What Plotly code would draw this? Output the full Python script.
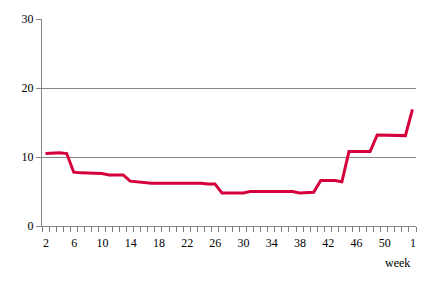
import plotly.graph_objects as go

weeks = [str(w) for w in range(2, 54)] + ["1"]
values = [10.5, 10.6, 10.6, 10.5, 7.8, 7.7, 7.7, 7.7, 7.6, 7.4, 7.4, 7.4,
          6.5, 6.4, 6.2, 6.2, 6.2, 6.2, 6.3, 6.2, 6.2, 6.2, 6.2, 6.1, 6.1,
          4.8, 4.8, 4.7, 4.8, 5.0, 5.0, 5.0, 5.0, 5.0, 5.0, 5.0, 4.8, 4.8,
          4.9, 6.6, 6.6, 6.6, 6.4, 10.8, 10.8, 10.8, 10.8, 13.2, 13.2, 13.1,
          13.1, 13.1, 16.9]
y_ticks = [0, 10, 20, 30]

n = len(weeks)
idx = list(range(n))
boundaries = [i - 0.5 for i in range(n + 1)]
# label every 4th category; labels sit at the left boundary and get shifted to centre
bound_text = [(weeks[i] if (i < n and i % 4 == 0) else "") for i in range(n + 1)]
xr = [-0.5, n - 0.5]

W, H = 436, 281
ML, MR, MT, MB = 42, 20, 19, 55
half_cat_px = int(round((W - ML - MR) / n / 2))

font = dict(family="Liberation Serif", size=12, color="#000000")

fig = go.Figure()
fig.add_trace(go.Scatter(x=idx, y=values, mode="lines",
                         line=dict(color="#d5003b", width=3),
                         hoverinfo="skip"))

fig.update_layout(
    template="none",
    width=W, height=H,
    margin=dict(l=ML, r=MR, t=MT, b=MB),
    paper_bgcolor="white", plot_bgcolor="white",
    showlegend=False,
    font=font,
    xaxis=dict(range=xr, tickmode="array",
               tickvals=boundaries, ticktext=bound_text,
               ticks="outside", ticklen=5, tickcolor="#7a7a7a", tickwidth=1,
               ticklabelshift=half_cat_px, ticklabelstandoff=1,
               showgrid=False, zeroline=False,
               showline=True, linecolor="#868686", linewidth=1,
               tickfont=font),
    yaxis=dict(range=[0, 30], tickvals=y_ticks, ticks="outside", ticklen=5,
               tickcolor="#868686", showgrid=True, gridcolor="#868686", gridwidth=1,
               zeroline=False, showline=True, linecolor="#868686", linewidth=1,
               tickfont=font),
    annotations=[dict(text="week", xref="paper", yref="paper",
                      x=(412 - ML) / (W - ML - MR), y=(226 - 263) / (H - MT - MB),
                      xanchor="right", yanchor="middle", showarrow=False, font=font)],
)

fig.write_html("out.html")
